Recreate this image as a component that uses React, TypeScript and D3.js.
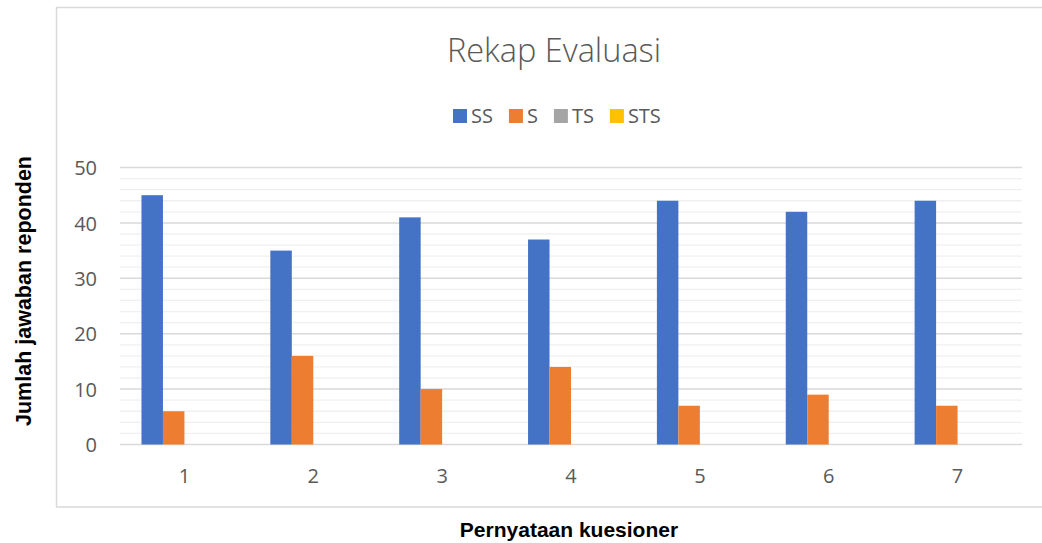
import React, { useEffect, useRef } from 'react';
import * as d3 from 'd3';

const categories = ['1', '2', '3', '4', '5', '6', '7'];
const seriesNames = ['SS', 'S', 'TS', 'STS'];
const ssValues = [45, 35, 41, 37, 44, 42, 44];
const sValues = [6, 16, 10, 14, 7, 9, 7];
const tsValues = [0, 0, 0, 0, 0, 0, 0];
const stsValues = [0, 0, 0, 0, 0, 0, 0];
const yTicks = [0, 10, 20, 30, 40, 50];
const colors = ['#4472C4', '#ED7D31', '#A5A5A5', '#FFC000'];

const App: React.FC = () => {
  const svgRef = useRef<SVGSVGElement>(null);

  useEffect(() => {
    if (!svgRef.current) return;
    const width = 1042;
    const height = 543;
    const svg = d3.select(svgRef.current);
    svg.selectAll('*').remove();
    svg.attr('width', width).attr('height', height);

    const plot = { left: 120, right: 1022, top: 167.5, bottom: 444.5 };
    const tickFont = '"Open Sans", sans-serif';
    const grey = '#595959';

    // chart frame (right edge runs off the picture)
    svg.append('rect')
      .attr('x', 56.5).attr('y', 7.5)
      .attr('width', 1100).attr('height', 499.5)
      .attr('fill', '#fff')
      .attr('stroke', '#d9d9d9')
      .attr('stroke-width', 1.5);

    const x0 = d3.scaleBand<string>()
      .domain(categories)
      .range([plot.left, plot.right]);

    // gap width 200%: 4 bars + 2 bar widths of gap per category
    const x1 = d3.scaleBand<string>()
      .domain(seriesNames)
      .range([0, x0.bandwidth()])
      .paddingInner(0)
      .paddingOuter(1);

    const y = d3.scaleLinear()
      .domain([0, 50])
      .range([plot.bottom, plot.top]);

    // minor grid every 2
    const minor = d3.range(2, 50, 2).filter(v => v % 10 !== 0);
    svg.append('g')
      .selectAll('line')
      .data(minor)
      .enter()
      .append('line')
      .attr('x1', plot.left).attr('x2', plot.right)
      .attr('y1', d => y(d)).attr('y2', d => y(d))
      .attr('stroke', '#f0f0f0')
      .attr('stroke-width', 1.3);

    svg.append('g')
      .selectAll('line')
      .data(yTicks)
      .enter()
      .append('line')
      .attr('x1', plot.left).attr('x2', plot.right)
      .attr('y1', d => y(d)).attr('y2', d => y(d))
      .attr('stroke', '#d9d9d9')
      .attr('stroke-width', 1.5);

    // bars
    const seriesValues = [ssValues, sValues, tsValues, stsValues];
    const rows = categories.map((c, i) => ({
      cat: c,
      vals: seriesNames.map((s, k) => ({ name: s, value: seriesValues[k][i], color: colors[k] })),
    }));

    const groups = svg.append('g')
      .selectAll('g')
      .data(rows)
      .enter()
      .append('g')
      .attr('transform', d => `translate(${x0(d.cat)},0)`);

    groups.selectAll('rect')
      .data(d => d.vals.filter(v => v.value > 0))
      .enter()
      .append('rect')
      .attr('x', d => x1(d.name) as number)
      .attr('width', x1.bandwidth())
      .attr('y', d => y(d.value))
      .attr('height', d => y(0) - y(d.value))
      .attr('fill', d => d.color);

    // y axis labels
    const yAxis = svg.append('g')
      .attr('transform', `translate(${plot.left - 23},0)`)
      .call(d3.axisLeft(y).tickValues(yTicks).tickSize(0).tickPadding(0).tickFormat(d3.format('d')));
    yAxis.select('.domain').remove();
    yAxis.selectAll('text')
      .attr('font-family', tickFont)
      .attr('font-size', '20px')
      .attr('fill', grey)
      .attr('dy', '0.36em');

    // x axis labels
    const xAxis = svg.append('g')
      .attr('transform', `translate(0,${plot.bottom})`)
      .call(d3.axisBottom(x0).tickSize(0).tickPadding(0));
    xAxis.select('.domain').remove();
    xAxis.selectAll('text')
      .attr('font-family', tickFont)
      .attr('font-size', '20px')
      .attr('fill', grey)
      .attr('dy', null)
      .attr('y', 38.5);

    // title
    svg.append('text')
      .attr('x', 554)
      .attr('y', 62)
      .attr('text-anchor', 'middle')
      .attr('font-family', tickFont)
      .attr('font-weight', 300)
      .attr('font-size', '32.5px')
      .attr('fill', grey)
      .text('Rekap Evaluasi');

    // legend, laid out left to right from measured text
    const legend = svg.append('g').attr('transform', 'translate(453,0)');
    let cursor = 0;
    seriesNames.forEach((name, k) => {
      legend.append('rect')
        .attr('x', cursor).attr('y', 109)
        .attr('width', 14).attr('height', 14)
        .attr('fill', colors[k]);
      const t = legend.append('text')
        .attr('x', cursor + 18)
        .attr('y', 123)
        .attr('font-family', tickFont)
        .attr('font-size', '20px')
        .attr('fill', grey)
        .text(name);
      const w = (t.node() as SVGTextElement).getComputedTextLength();
      cursor += 18 + w + 16;
    });

    // axis titles
    svg.append('text')
      .attr('x', 569)
      .attr('y', 537)
      .attr('text-anchor', 'middle')
      .attr('font-family', '"Liberation Sans", Arial, sans-serif')
      .attr('font-weight', 'bold')
      .attr('font-size', '21px')
      .attr('fill', '#000')
      .text('Pernyataan kuesioner');

    svg.append('text')
      .attr('transform', 'translate(31,291) rotate(-90)')
      .attr('text-anchor', 'middle')
      .attr('font-family', '"Liberation Sans", Arial, sans-serif')
      .attr('font-weight', 'bold')
      .attr('font-size', '21.5px')
      .attr('fill', '#000')
      .text('Jumlah jawaban reponden');
  }, []);

  return (
    <div style={{ position: 'absolute', left: 0, top: 0, width: 1042, height: 543, background: '#fff' }}>
      <svg ref={svgRef} style={{ display: 'block' }}></svg>
    </div>
  );
};

export default App;
